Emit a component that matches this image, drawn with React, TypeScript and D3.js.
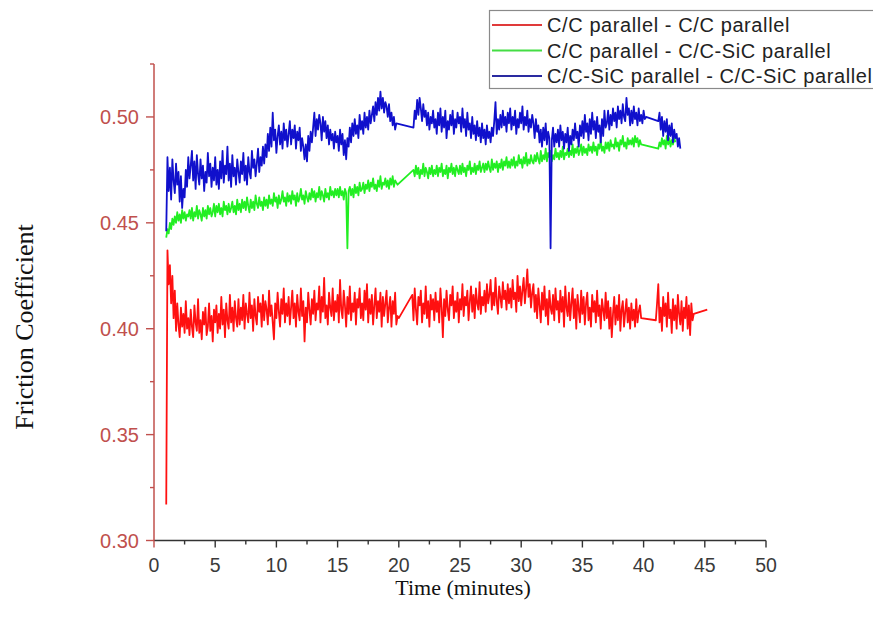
import React from "react";
import * as d3 from "d3";

// Sampling of the friction readings (minutes)
const SAMPLE_START = 1.0;
const SAMPLE_STEP = 0.1;

// Series names
const seriesNames = [
  "C/C parallel - C/C parallel",
  "C/C parallel - C/C-SiC parallel",
  "C/C-SiC parallel - C/C-SiC parallel",
];

// Friction coefficient readings, one per sample (null = no reading, the line bridges the gap)
// each row = 2 minutes (20 samples)
const redValues: (number | null)[] = [
  0.317, 0.437, 0.421, 0.430, 0.412, 0.425, 0.405, 0.418, 0.399, 0.412, 0.402, 0.396, 0.410, 0.401, 0.407, 0.398, 0.413, 0.400, 0.405, 0.397,
  0.409, 0.401, 0.396, 0.411, 0.403, 0.399, 0.414, 0.398, 0.404, 0.395, 0.408, 0.402, 0.410, 0.397, 0.401, 0.412, 0.399, 0.406, 0.394, 0.409,
  0.403, 0.411, 0.398, 0.407, 0.400, 0.415, 0.402, 0.409, 0.396, 0.412, 0.404, 0.400, 0.416, 0.403, 0.410, 0.399, 0.413, 0.405, 0.401, 0.414,
  0.402, 0.410, 0.404, 0.416, 0.400, 0.412, 0.407, 0.403, 0.417, 0.405, 0.411, 0.399, 0.414, 0.406, 0.402, 0.415, 0.408, 0.412, 0.401, 0.416,
  0.404, 0.413, 0.409, 0.402, 0.418, 0.406, 0.411, 0.403, 0.395, 0.412, 0.405, 0.417, 0.408, 0.401, 0.414, 0.407, 0.419, 0.403, 0.412, 0.406,
  0.415, 0.402, 0.410, 0.418, 0.405, 0.412, 0.401, 0.416, 0.408, 0.404, 0.419, 0.406, 0.413, 0.394, 0.410, 0.403, 0.417, 0.409, 0.402, 0.414,
  0.407, 0.418, 0.404, 0.412, 0.409, 0.420, 0.403, 0.415, 0.408, 0.424, 0.405, 0.411, 0.402, 0.417, 0.410, 0.406, 0.419, 0.404, 0.413, 0.408,
  0.416, 0.403, 0.423, 0.409, 0.405, 0.418, 0.411, 0.401, 0.415, 0.407, 0.420, 0.404, 0.412, 0.408, 0.417, 0.402, 0.414, 0.410, 0.419, 0.405,
  0.412, 0.404, 0.418, 0.409, 0.421, 0.403, 0.414, 0.407, 0.416, 0.402, 0.411, 0.419, 0.405, 0.413, 0.408, 0.417, 0.401, 0.415, 0.406, 0.412,
  0.418, 0.403, 0.410, 0.415, 0.401, 0.413, 0.407, 0.417, 0.402, 0.406, 0.405, null, null, null, null, null, null, null, null, null,
  null, 0.416, 0.404, 0.419, 0.409, 0.402, 0.415, 0.411, 0.418, 0.403, 0.412, 0.407, 0.420, 0.405, 0.413, 0.401, 0.416, 0.409, 0.414, 0.404,
  0.417, 0.408, 0.413, 0.403, 0.419, 0.410, 0.396, 0.414, 0.406, 0.418, 0.409, 0.404, 0.416, 0.411, 0.420, 0.405, 0.413, 0.408, 0.417, 0.403,
  0.414, 0.409, 0.421, 0.406, 0.415, 0.411, 0.418, 0.404, 0.413, 0.420, 0.408, 0.416, 0.405, 0.419, 0.412, 0.409, 0.422, 0.407, 0.415, 0.411,
  0.418, 0.408, 0.421, 0.412, 0.416, 0.423, 0.409, 0.417, 0.411, 0.424, 0.413, 0.407, 0.420, 0.415, 0.410, 0.422, 0.414, 0.418, 0.409, 0.421,
  0.412, 0.419, 0.410, 0.423, 0.414, 0.417, 0.408, 0.425, 0.413, 0.420, 0.411, 0.418, 0.424, 0.412, 0.419, 0.428, 0.415, 0.421, 0.410, 0.417,
  0.421, 0.408, 0.416, 0.405, 0.419, 0.411, 0.403, 0.417, 0.409, 0.420, 0.406, 0.414, 0.402, 0.418, 0.410, 0.407, 0.416, 0.404, 0.419, 0.409,
  0.413, 0.403, 0.418, 0.408, 0.415, 0.401, 0.420, 0.410, 0.406, 0.417, 0.404, 0.412, 0.419, 0.405, 0.414, 0.400, 0.416, 0.409, 0.403, 0.418,
  0.407, 0.415, 0.402, 0.412, 0.417, 0.404, 0.410, 0.401, 0.416, 0.408, 0.413, 0.403, 0.418, 0.406, 0.411, 0.400, 0.414, 0.409, 0.404, 0.417,
  0.405, 0.413, 0.400, 0.410, 0.396, 0.407, 0.415, 0.402, 0.411, 0.404, 0.416, 0.399, 0.409, 0.413, 0.401, 0.408, 0.414, 0.403, 0.410, 0.400,
  0.412, 0.404, 0.409, 0.401, 0.414, 0.403, 0.408, 0.411, 0.405, null, null, null, null, null, null, null, null, null, null, null,
  0.404, 0.412, 0.421, 0.403, 0.410, 0.399, 0.415, 0.406, 0.412, 0.401, 0.417, 0.405, 0.409, 0.398, 0.414, 0.404, 0.411, 0.400, 0.416, 0.407,
  0.402, 0.413, 0.399, 0.410, 0.405, 0.415, 0.400, 0.411, 0.397, 0.412, 0.404, 0.407, null, null, null, null, null, null, null, null,
  null, null, 0.409,
];

const greenValues: (number | null)[] = [
  0.443, 0.447, 0.445, 0.450, 0.447, 0.452, 0.449, 0.453, 0.450, 0.455, 0.451, 0.454, 0.450, 0.456, 0.452, 0.455, 0.451, 0.454, 0.453, 0.456,
  0.452, 0.457, 0.451, 0.455, 0.453, 0.458, 0.452, 0.456, 0.454, 0.451, 0.457, 0.453, 0.456, 0.452, 0.458, 0.454, 0.457, 0.453, 0.455, 0.459,
  0.453, 0.458, 0.455, 0.459, 0.454, 0.457, 0.453, 0.460, 0.456, 0.458, 0.454, 0.459, 0.455, 0.457, 0.460, 0.455, 0.458, 0.454, 0.461, 0.456,
  0.459, 0.455, 0.461, 0.457, 0.460, 0.456, 0.462, 0.458, 0.455, 0.461, 0.457, 0.460, 0.456, 0.463, 0.459, 0.457, 0.462, 0.458, 0.460, 0.456,
  0.462, 0.458, 0.461, 0.457, 0.463, 0.459, 0.461, 0.458, 0.464, 0.460, 0.462, 0.457, 0.463, 0.459, 0.461, 0.465, 0.460, 0.462, 0.458, 0.464,
  0.460, 0.463, 0.459, 0.465, 0.461, 0.463, 0.458, 0.464, 0.460, 0.462, 0.466, 0.461, 0.463, 0.459, 0.465, 0.462, 0.460, 0.464, 0.461, 0.466,
  0.462, 0.465, 0.460, 0.464, 0.462, 0.467, 0.461, 0.465, 0.463, 0.460, 0.466, 0.462, 0.464, 0.461, 0.467, 0.463, 0.465, 0.462, 0.466, 0.463,
  0.466, 0.462, 0.467, 0.463, 0.465, 0.461, 0.466, 0.464, 0.438, 0.465, 0.467, 0.463, 0.466, 0.462, 0.468, 0.464, 0.467, 0.463, 0.469, 0.465,
  0.466, 0.469, 0.464, 0.468, 0.466, 0.470, 0.465, 0.469, 0.467, 0.471, 0.466, 0.468, 0.465, 0.470, 0.467, 0.472, 0.466, 0.469, 0.468, 0.471,
  0.467, 0.470, 0.466, 0.471, 0.468, 0.472, 0.467, 0.470, 0.469, 0.468, null, null, null, null, null, null, null, null, null, null,
  null, null, 0.475, 0.472, 0.477, 0.473, 0.476, 0.471, 0.475, 0.473, 0.478, 0.472, 0.476, 0.474, 0.471, 0.476, 0.473, 0.477, 0.472, 0.475,
  0.473, 0.477, 0.472, 0.476, 0.474, 0.478, 0.472, 0.475, 0.473, 0.477, 0.471, 0.476, 0.474, 0.478, 0.473, 0.476, 0.472, 0.477, 0.475, 0.473,
  0.477, 0.473, 0.478, 0.474, 0.476, 0.472, 0.477, 0.475, 0.479, 0.473, 0.476, 0.474, 0.478, 0.473, 0.477, 0.475, 0.479, 0.474, 0.476, 0.478,
  0.474, 0.478, 0.475, 0.479, 0.476, 0.474, 0.480, 0.475, 0.478, 0.476, 0.479, 0.474, 0.478, 0.476, 0.480, 0.475, 0.479, 0.477, 0.481, 0.476,
  0.479, 0.476, 0.480, 0.477, 0.481, 0.476, 0.479, 0.477, 0.482, 0.478, 0.480, 0.476, 0.481, 0.478, 0.483, 0.477, 0.480, 0.478, 0.482, 0.479,
  0.478, 0.482, 0.479, 0.483, 0.480, 0.478, 0.484, 0.479, 0.482, 0.480, 0.485, 0.479, 0.483, 0.481, 0.484, 0.479, 0.482, 0.480, 0.485, 0.481,
  0.483, 0.480, 0.484, 0.481, 0.486, 0.480, 0.483, 0.482, 0.485, 0.481, 0.484, 0.482, 0.487, 0.481, 0.485, 0.483, 0.486, 0.482, 0.484, 0.487,
  0.482, 0.486, 0.483, 0.485, 0.482, 0.487, 0.484, 0.486, 0.483, 0.488, 0.484, 0.486, 0.482, 0.487, 0.485, 0.489, 0.484, 0.486, 0.483, 0.488,
  0.485, 0.488, 0.484, 0.489, 0.486, 0.487, 0.485, 0.490, 0.486, 0.488, 0.484, 0.489, 0.487, 0.491, 0.486, 0.488, 0.485, 0.490, 0.487, 0.489,
  0.487, 0.490, 0.486, 0.491, 0.488, 0.490, 0.486, 0.489, 0.487, null, null, null, null, null, null, null, null, null, null, null,
  null, null, 0.485, 0.488, 0.486, 0.490, 0.487, 0.489, 0.485, 0.491, 0.487, 0.490, 0.486, 0.489, 0.487, 0.490, 0.488,
];

const blueValues: (number | null)[] = [
  0.446, 0.481, 0.465, 0.476, 0.461, 0.480, 0.470, 0.464, 0.478, 0.468, 0.474, 0.460, 0.472, 0.457, 0.466, 0.462, 0.475, 0.467, 0.481, 0.471,
  0.477, 0.484, 0.470, 0.479, 0.466, 0.482, 0.473, 0.468, 0.480, 0.471, 0.477, 0.465, 0.474, 0.469, 0.483, 0.472, 0.478, 0.467, 0.476, 0.470,
  0.481, 0.468, 0.475, 0.466, 0.479, 0.471, 0.484, 0.469, 0.477, 0.473, 0.486, 0.470, 0.478, 0.467, 0.482, 0.472, 0.476, 0.468, 0.480, 0.474,
  0.469, 0.479, 0.473, 0.483, 0.470, 0.477, 0.468, 0.481, 0.474, 0.471, 0.484, 0.476, 0.480, 0.472, 0.478, 0.485, 0.474, 0.481, 0.477, 0.486,
  0.478, 0.487, 0.481, 0.492, 0.484, 0.495, 0.486, 0.502, 0.489, 0.494, 0.483, 0.491, 0.496, 0.487, 0.493, 0.485, 0.497, 0.489, 0.494, 0.486,
  0.492, 0.498, 0.487, 0.494, 0.490, 0.496, 0.485, 0.493, 0.489, 0.495, 0.484, 0.490, 0.486, 0.480, 0.487, 0.479, 0.491, 0.484, 0.493, 0.488,
  0.495, 0.502, 0.491, 0.499, 0.494, 0.501, 0.497, 0.489, 0.500, 0.493, 0.498, 0.490, 0.496, 0.487, 0.494, 0.489, 0.492, 0.485, 0.493, 0.488,
  0.491, 0.484, 0.494, 0.487, 0.492, 0.482, 0.489, 0.480, 0.490, 0.486, 0.495, 0.488, 0.497, 0.491, 0.499, 0.492, 0.496, 0.490, 0.501, 0.494,
  0.498, 0.492, 0.502, 0.495, 0.500, 0.494, 0.503, 0.497, 0.501, 0.505, 0.498, 0.507, 0.501, 0.509, 0.503, 0.512, 0.504, 0.509, 0.502, 0.507,
  0.505, 0.500, 0.506, 0.498, 0.502, 0.496, 0.500, 0.494, 0.497, null, null, null, null, null, null, null, null, null, null, null,
  null, null, 0.495, 0.503, 0.499, 0.508, 0.501, 0.509, 0.504, 0.498, 0.506, 0.500, 0.503, 0.496, 0.502, 0.494, 0.500, 0.497, 0.503, 0.495,
  0.499, 0.492, 0.502, 0.496, 0.504, 0.493, 0.500, 0.495, 0.503, 0.490, 0.498, 0.494, 0.501, 0.496, 0.503, 0.492, 0.499, 0.495, 0.502, 0.497,
  0.500, 0.493, 0.504, 0.495, 0.499, 0.491, 0.502, 0.494, 0.497, 0.490, 0.500, 0.492, 0.496, 0.489, 0.498, 0.491, 0.495, 0.488, 0.497, 0.490,
  0.494, 0.487, 0.496, 0.490, 0.493, 0.488, 0.495, 0.491, 0.498, 0.507, 0.492, 0.499, 0.494, 0.501, 0.495, 0.503, 0.496, 0.500, 0.493, 0.502,
  0.497, 0.504, 0.494, 0.500, 0.496, 0.503, 0.492, 0.499, 0.495, 0.502, 0.497, 0.505, 0.494, 0.500, 0.496, 0.503, 0.493, 0.499, 0.495, 0.501,
  0.497, 0.490, 0.499, 0.493, 0.496, 0.488, 0.494, 0.486, 0.495, 0.489, 0.497, 0.487, 0.493, 0.490, 0.438, 0.489, 0.495, 0.486, 0.492, 0.488,
  0.494, 0.486, 0.496, 0.489, 0.493, 0.485, 0.492, 0.488, 0.495, 0.484, 0.491, 0.487, 0.494, 0.489, 0.497, 0.490, 0.493, 0.486, 0.496, 0.491,
  0.498, 0.490, 0.501, 0.493, 0.497, 0.489, 0.499, 0.492, 0.502, 0.494, 0.498, 0.490, 0.500, 0.493, 0.496, 0.488, 0.499, 0.491, 0.503, 0.495,
  0.497, 0.503, 0.494, 0.501, 0.496, 0.504, 0.498, 0.502, 0.495, 0.505, 0.499, 0.503, 0.497, 0.506, 0.500, 0.498, 0.509, 0.501, 0.504, 0.496,
  0.503, 0.497, 0.505, 0.499, 0.502, 0.496, 0.504, 0.498, 0.501, 0.497, 0.503, 0.499, 0.500, null, null, null, null, null, null, null,
  null, null, 0.498, 0.502, 0.494, 0.500, 0.491, 0.498, 0.493, 0.499, 0.489, 0.496, 0.491, 0.497, 0.488, 0.494, 0.490, 0.492, 0.486, 0.490,
  0.485,
];

// Axis ticks
const xMajorTicks = [0, 5, 10, 15, 20, 25, 30, 35, 40, 45, 50];
const xMinorTicks = [2.5, 7.5, 12.5, 17.5, 22.5, 27.5, 32.5, 37.5, 42.5, 47.5];
const yMajorTicks = [0.3, 0.35, 0.4, 0.45, 0.5];
const yMinorTicks = [0.325, 0.375, 0.425, 0.475, 0.525];

const W = 873;
const H = 624;
const AXIS_RED = "#c0504d";
const colors = ["#ff1010", "#22ee22", "#1010cc"];
const legendColors = ["#e03a3a", "#44dd44", "#2a2aa0"];

function toPoints(vals: (number | null)[]): [number, number][] {
  const pts: [number, number][] = [];
  vals.forEach((v, i) => {
    if (v !== null) pts.push([SAMPLE_START + i * SAMPLE_STEP, v]);
  });
  return pts;
}

export default function App() {
  const x = d3.scaleLinear().domain([0, 50]).range([154, 766]);
  const y = d3.scaleLinear().domain([0.3, 0.525]).range([540.5, 64]);
  const line = d3
    .line<[number, number]>()
    .x((d) => x(d[0]))
    .y((d) => y(d[1]));

  const series = [redValues, greenValues, blueValues].map(toPoints);
  const axisY = y(0.3);

  return (
    <svg
      width={W}
      height={H}
      style={{ position: "absolute", left: 0, top: 0, background: "#fff" }}
    >
      <rect x={0} y={0} width={W} height={H} fill="#fff" />
      {/* data */}
      {series.map((pts, i) => (
        <path
          key={i}
          d={line(pts) || ""}
          fill="none"
          stroke={colors[i]}
          strokeWidth={1.8}
          strokeLinejoin="round"
        />
      ))}

      {/* x axis */}
      <line x1={x(0)} x2={x(50)} y1={axisY} y2={axisY} stroke="#333" strokeWidth={1.4} />
      {xMajorTicks.map((t) => (
        <g key={"xm" + t}>
          <line
            x1={x(t)}
            x2={x(t)}
            y1={axisY}
            y2={axisY + 7}
            stroke={t === 0 ? AXIS_RED : "#333"}
            strokeWidth={1.4}
          />
          <text
            x={x(t)}
            y={572}
            textAnchor="middle"
            fontFamily="Liberation Sans, Arial, sans-serif"
            fontSize={19.5}
            fill="#3a3a3a"
          >
            {t}
          </text>
        </g>
      ))}
      {xMinorTicks.map((t) => (
        <line
          key={"xn" + t}
          x1={x(t)}
          x2={x(t)}
          y1={axisY}
          y2={axisY + 4}
          stroke="#333"
          strokeWidth={1.4}
        />
      ))}

      {/* y axis */}
      <line x1={x(0)} x2={x(0)} y1={y(0.525)} y2={axisY} stroke={AXIS_RED} strokeWidth={1.5} />
      {yMajorTicks.map((t) => (
        <g key={"ym" + t}>
          <line x1={x(0) - 8} x2={x(0)} y1={y(t)} y2={y(t)} stroke={AXIS_RED} strokeWidth={1.4} />
          <text
            x={139}
            y={y(t) + 7}
            textAnchor="end"
            fontFamily="Liberation Sans, Arial, sans-serif"
            fontSize={20}
            fill={AXIS_RED}
          >
            {t.toFixed(2)}
          </text>
        </g>
      ))}
      {yMinorTicks.map((t) => (
        <line key={"yn" + t} x1={x(0) - 4} x2={x(0)} y1={y(t)} y2={y(t)} stroke={AXIS_RED} strokeWidth={1.4} />
      ))}

      {/* axis titles */}
      <text
        x={463}
        y={595}
        textAnchor="middle"
        fontFamily="Liberation Serif, Times New Roman, serif"
        fontSize={22}
        fill="#111"
      >
        Time (minutes)
      </text>
      <text
        transform="translate(33,327) rotate(-90)"
        textAnchor="middle"
        fontFamily="Liberation Serif, Times New Roman, serif"
        fontSize={26}
        fill="#111"
      >
        Friction Coefficient
      </text>

      {/* legend */}
      <rect x={489.5} y={10.5} width={400} height={78} fill="#fff" stroke="#8a8a8a" strokeWidth={1.2} />
      {seriesNames.map((name, i) => {
        const cy = 25 + i * 25.5;
        return (
          <g key={name}>
            <line x1={492} x2={542} y1={cy} y2={cy} stroke={legendColors[i]} strokeWidth={2} />
            <text
              x={547}
              y={cy + 7}
              fontFamily="Liberation Sans, Arial, sans-serif"
              fontSize={20}
              letterSpacing={0.6}
              fill="#222"
            >
              {name}
            </text>
          </g>
        );
      })}
    </svg>
  );
}
